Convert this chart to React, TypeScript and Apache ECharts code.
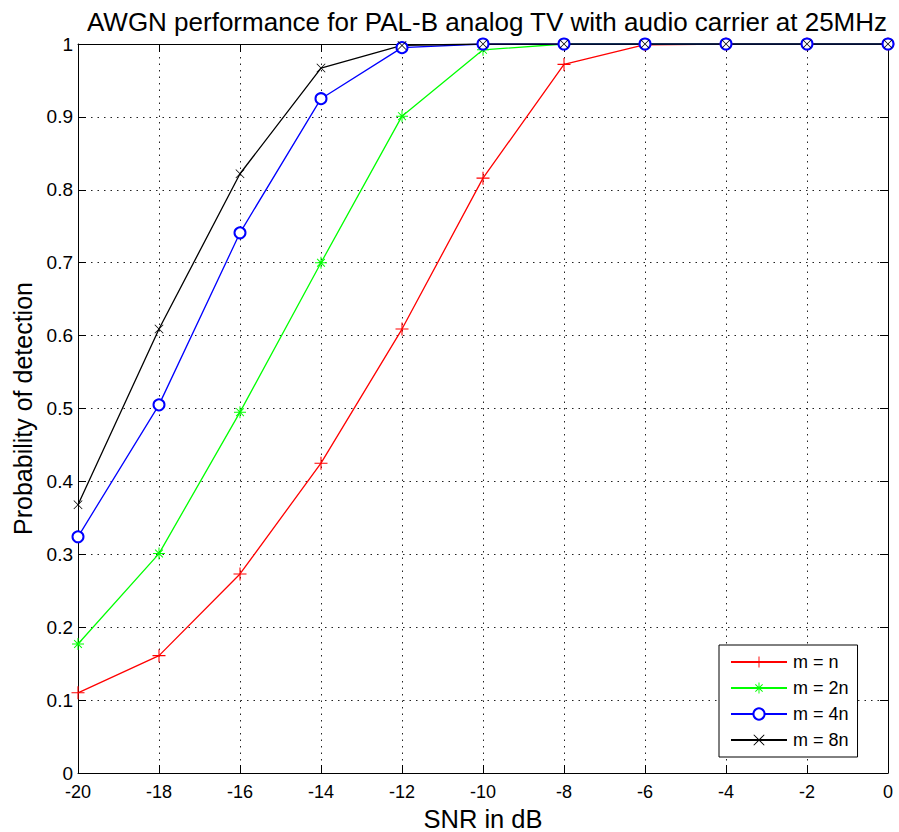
import React, { useEffect, useRef } from "react";
import * as echarts from "echarts";

const snr = [-20, -18, -16, -14, -12, -10, -8, -6, -4, -2, 0];
const pdN = [0.11, 0.161, 0.273, 0.425, 0.609, 0.816, 0.972, 0.999, 1, 1, 1];
const pd2N = [0.177, 0.301, 0.495, 0.7, 0.901, 0.992, 1, 1, 1, 1, 1];
const pd4N = [0.324, 0.505, 0.741, 0.925, 0.995, 1, 1, 1, 1, 1, 1];
const pd8N = [0.368, 0.609, 0.822, 0.967, 0.998, 1, 1, 1, 1, 1, 1];
const seriesNames = ["m = n", "m = 2n", "m = 4n", "m = 8n"];

const PLUS = "path://M11,0h2v11h11v2h-11v11h-2v-11h-11v-2h11z";
const CROSS = "path://M0,1.4L1.4,0L12,10.6L22.6,0L24,1.4L13.4,12L24,22.6L22.6,24L12,13.4L1.4,24L0,22.6L10.6,12Z";
const STAR = "path://M11,0h2v11h11v2h-11v11h-2v-11h-11v-2h11z M3.5,4.9L4.9,3.5L12,10.6L19.1,3.5L20.5,4.9L13.4,12L20.5,19.1L19.1,20.5L12,13.4L4.9,20.5L3.5,19.1L10.6,12Z";

export default function App() {
  const ref = useRef<HTMLDivElement>(null);
  useEffect(() => {
    if (!ref.current) return;
    const chart = echarts.init(ref.current, null, { renderer: "svg" });
    const font = "Liberation Sans, Arial, sans-serif";
    const mk = (name: string, data: number[], color: string, symbol: string, size: number, empty = false) => ({
      name,
      type: "line",
      data: snr.map((x, i) => [x, data[i]]),
      symbol,
      symbolSize: size,
      showAllSymbol: true,
      lineStyle: { color, width: 1.3 },
      itemStyle: empty
        ? { color, borderColor: color, borderWidth: 1.2 }
        : { color, borderWidth: 0 },
      z: 3,
    });
    const dotted = { show: true, lineStyle: { color: "#222", type: [1.5, 5], width: 1 } };
    chart.setOption({
      animation: false,
      backgroundColor: "#fff",
      textStyle: { fontFamily: font },
      title: {
        text: "AWGN performance for PAL-B analog TV with audio carrier at 25MHz",
        left: 482,
        textAlign: "center",
        top: 4,
        textStyle: { fontFamily: font, fontSize: 26, fontWeight: "normal", color: "#000" },
      },
      grid: { left: 78, right: 11, top: 44, bottom: 59, containLabel: false, outerBoundsMode: "none" },
      legend: {
        orient: "vertical",
        left: 719,
        top: 645,
        padding: [8, 9, 8, 11],
        backgroundColor: "#fff",
        borderColor: "#000",
        borderWidth: 1,
        borderRadius: 0,
        itemWidth: 56,
        itemHeight: 14,
        itemGap: 8,
        data: seriesNames,
        textStyle: { fontFamily: font, fontSize: 18, lineHeight: 18, color: "#000", padding: [0, 0, 0, 1] },
      },
      xAxis: [
        {
          type: "value",
          min: -20,
          max: 0,
          interval: 2,
          name: "SNR in dB",
          nameLocation: "middle",
          nameGap: 28,
          nameTextStyle: { fontFamily: font, fontSize: 25.5, lineHeight: 26, color: "#000" },
          axisLine: { show: true, onZero: false, lineStyle: { color: "#000", width: 1 } },
          axisTick: { show: true, inside: true, length: 8, lineStyle: { color: "#000" } },
          axisLabel: { fontFamily: font, fontSize: 18, color: "#000", margin: 10 },
          splitLine: dotted,
        },
        {
          type: "value",
          position: "top",
          min: -20,
          max: 0,
          interval: 2,
          axisLine: { show: true, onZero: false, lineStyle: { color: "#000", width: 1 } },
          axisTick: { show: true, inside: true, length: 8, lineStyle: { color: "#000" } },
          axisLabel: { show: false },
          splitLine: { show: false },
        },
      ],
      yAxis: [
        {
          type: "value",
          min: 0,
          max: 1,
          interval: 0.1,
          name: "Probability of detection",
          nameLocation: "middle",
          nameGap: 42,
          nameTextStyle: { fontFamily: font, fontSize: 25, color: "#000" },
          axisLine: { show: true, onZero: false, lineStyle: { color: "#000", width: 1 } },
          axisTick: { show: true, inside: true, length: 8, lineStyle: { color: "#000" } },
          axisLabel: {
            fontFamily: font,
            fontSize: 19,
            color: "#000",
            margin: 5,
            formatter: (v: number) => String(Math.round(v * 10) / 10),
          },
          splitLine: dotted,
        },
        {
          type: "value",
          position: "right",
          min: 0,
          max: 1,
          interval: 0.1,
          axisLine: { show: true, onZero: false, lineStyle: { color: "#000", width: 1 } },
          axisTick: { show: true, inside: true, length: 8, lineStyle: { color: "#000" } },
          axisLabel: { show: false },
          splitLine: { show: false },
        },
      ],
      series: [
        mk(seriesNames[0], pdN, "#ff0000", PLUS, 13),
        mk(seriesNames[1], pd2N, "#00ff00", STAR, 12),
        mk(seriesNames[2], pd4N, "#0000ff", "emptyCircle", 11, true),
        mk(seriesNames[3], pd8N, "#000000", CROSS, 9),
      ],
    });
    return () => chart.dispose();
  }, []);
  return (
    <div
      ref={ref}
      style={{ position: "fixed", left: 0, top: 0, width: 899, height: 832, background: "#fff" }}
    />
  );
}
